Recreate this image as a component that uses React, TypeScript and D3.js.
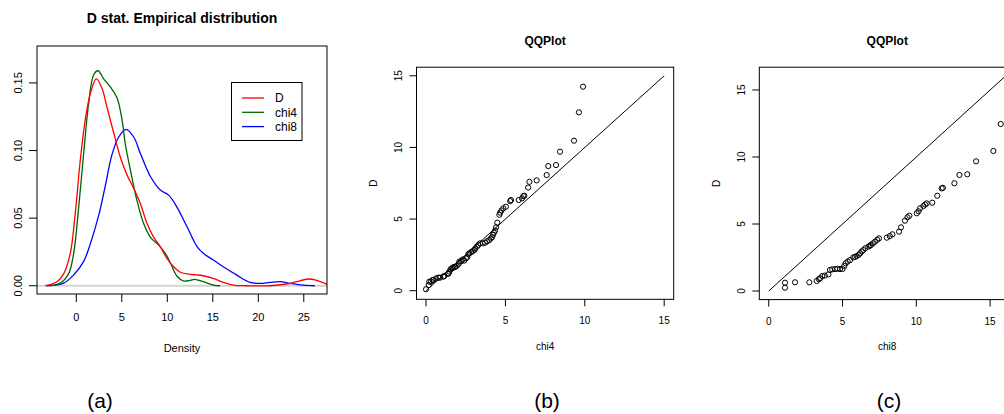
import * as d3 from "d3";

// density curves, panel (a)
const dX = [-3.4, -2.12, -1.38, -0.66, -0.11, 0.44, 0.99, 1.54, 2.2, 2.82, 3.37, 4.11, 4.84, 5.57, 6.31, 7.03, 7.77, 8.5, 9.23, 9.97, 10.7, 11.43, 12.5, 13.27, 13.95, 15.05, 16.15, 17.25, 18.6, 21.3, 23.1, 24.2, 25.5, 26.4, 27.6];
const dY = [0, 0.003, 0.009, 0.024, 0.054, 0.093, 0.123, 0.142, 0.153, 0.146, 0.132, 0.113, 0.095, 0.082, 0.072, 0.061, 0.046, 0.036, 0.029, 0.02, 0.014, 0.01, 0.0084, 0.008, 0.0074, 0.0055, 0.0025, 0.0005, 0, 0, 0.0013, 0.003, 0.005, 0.004, 0.001];
const chi4X = [-2.86, -1.76, -0.84, -0.29, 0.26, 0.81, 1.36, 1.91, 2.38, 3.01, 3.74, 4.47, 5.02, 5.38, 5.93, 6.67, 7.4, 8.13, 9.05, 9.78, 10.33, 11.07, 11.8, 12.53, 13.0, 13.95, 15.05, 15.8];
const chi4Y = [0, 0.002, 0.009, 0.024, 0.058, 0.098, 0.135, 0.156, 0.159, 0.153, 0.147, 0.139, 0.123, 0.105, 0.086, 0.063, 0.046, 0.036, 0.03, 0.024, 0.017, 0.007, 0.0035, 0.004, 0.0047, 0.003, 0.0005, 0];
const chi8X = [-3.25, -1.38, -0.29, 0.81, 1.54, 2.46, 3.19, 3.92, 4.66, 5.45, 6.31, 7.03, 8.13, 9.23, 10.15, 11.07, 12.17, 13.27, 13.96, 15.05, 16.15, 17.6, 19.1, 20.2, 21.3, 22.4, 23.5, 24.9, 26.2];
const chi8Y = [0, 0.002, 0.008, 0.018, 0.031, 0.052, 0.074, 0.097, 0.11, 0.1157, 0.11, 0.098, 0.081, 0.0708, 0.067, 0.058, 0.0436, 0.029, 0.024, 0.019, 0.014, 0.008, 0.0025, 0.0018, 0.0025, 0.003, 0.0018, 0.0005, 0];

// QQ plot (b): chi4 quantiles vs D
const qqB_x = [0.0, 0.17, 0.21, 0.31, 0.42, 0.46, 0.63, 0.78, 0.88, 1.09, 1.15, 1.37, 1.42, 1.47, 1.55, 1.64, 1.7, 1.79, 1.84, 1.93, 2.05, 2.1, 2.2, 2.31, 2.4, 2.52, 2.6, 2.67, 2.73, 2.85, 2.94, 3.05, 3.1, 3.2, 3.3, 3.4, 3.57, 3.72, 3.85, 3.99, 4.08, 4.16, 4.22, 4.28, 4.35, 4.41, 4.49, 4.62, 4.67, 4.75, 4.87, 5.03, 5.3, 5.35, 5.84, 6.05, 6.13, 6.19, 6.43, 6.51, 6.97, 7.6, 7.7, 8.19, 8.44, 9.32, 9.63, 9.89];
const qqB_y = [0.1, 0.4, 0.63, 0.63, 0.75, 0.75, 0.86, 0.91, 0.91, 0.98, 1.03, 1.17, 1.21, 1.33, 1.5, 1.56, 1.63, 1.64, 1.68, 1.72, 1.86, 2.03, 2.05, 2.18, 2.1, 2.26, 2.35, 2.56, 2.61, 2.7, 2.76, 2.85, 2.95, 3.07, 3.2, 3.3, 3.31, 3.35, 3.45, 3.54, 3.65, 3.73, 3.9, 4.05, 4.2, 4.42, 4.75, 5.3, 5.45, 5.6, 5.75, 5.86, 6.25, 6.33, 6.33, 6.45, 6.6, 6.63, 7.2, 7.6, 7.7, 8.07, 8.7, 8.77, 9.7, 10.47, 12.45, 14.24];

// QQ plot (c): chi8 quantiles vs D
const qqC_x = [1.1, 1.1, 1.78, 2.75, 3.25, 3.4, 3.48, 3.63, 3.8, 4.04, 4.15, 4.3, 4.5, 4.65, 4.83, 5.0, 5.12, 5.21, 5.35, 5.51, 5.73, 5.85, 5.96, 6.1, 6.19, 6.3, 6.41, 6.55, 6.75, 6.85, 6.91, 7.05, 7.2, 7.35, 7.47, 8.0, 8.2, 8.38, 8.83, 8.96, 9.23, 9.4, 9.53, 10.03, 10.15, 10.25, 10.48, 10.6, 10.7, 11.08, 11.42, 11.72, 11.8, 12.58, 12.92, 13.45, 14.05, 15.22, 15.72, 16.5];
const qqC_y = [0.25, 0.62, 0.65, 0.65, 0.75, 0.88, 0.95, 1.12, 1.15, 1.24, 1.57, 1.62, 1.64, 1.66, 1.64, 1.64, 1.87, 2.07, 2.2, 2.31, 2.51, 2.55, 2.61, 2.7, 2.81, 2.95, 3.06, 3.2, 3.31, 3.38, 3.43, 3.55, 3.68, 3.82, 3.93, 3.98, 4.1, 4.23, 4.43, 4.75, 5.25, 5.5, 5.62, 5.8, 5.95, 6.17, 6.34, 6.45, 6.54, 6.59, 7.11, 7.66, 7.7, 8.04, 8.66, 8.71, 9.68, 10.45, 12.46, 14.24];

const ticksA_x = [0, 5, 10, 15, 20, 25];
const ticksA_y = [0, 0.05, 0.1, 0.15];
const ticksQQ = [0, 5, 10, 15];
const legendNames = ["D", "chi4", "chi8"];
const legendColors = ["#ff0000", "#006400", "#0000ff"];

const FONT = "'Liberation Sans', Arial, sans-serif";

type Sc = d3.ScaleLinear<number, number>;

function Frame({ x, y, xt, yt, xfmt, yfmt, fs, tick, ylx }: { x: Sc; y: Sc; xt: number[]; yt: number[]; xfmt: (v: number) => string; yfmt: (v: number) => string; fs: number; tick: number; ylx: number }) {
  const [x0, x1] = x.range();
  const [y0, y1] = y.range();
  return (
    <g fontFamily={FONT} fontSize={fs} fill="#000">
      <rect x={x0} y={y1} width={x1 - x0} height={y0 - y1} fill="none" stroke="#000" strokeWidth={1} />
      {xt.map((t) => (
        <g key={"x" + t}>
          <line x1={x(t)} x2={x(t)} y1={y0} y2={y0 + tick} stroke="#000" />
          <text x={x(t)} y={y0 + tick + fs + 8} textAnchor="middle">{xfmt(t)}</text>
        </g>
      ))}
      {yt.map((t) => (
        <g key={"y" + t}>
          <line x1={x0 - tick} x2={x0} y1={y(t)} y2={y(t)} stroke="#000" />
          <text transform={`translate(${ylx},${y(t)}) rotate(-90)`} textAnchor="middle" dy="0.35em">{yfmt(t)}</text>
        </g>
      ))}
    </g>
  );
}

function QQ({ x, y, px, py, lineMax, xlab, id }: { x: Sc; y: Sc; px: number[]; py: number[]; lineMax: number; xlab: string; id: string }) {
  const [x0, x1] = x.range();
  const [y0, y1] = y.range();
  const cx = (x0 + x1) / 2;
  return (
    <g>
      <defs>
        <clipPath id={id}>
          <rect x={x0} y={y1} width={x1 - x0} height={y0 - y1} />
        </clipPath>
      </defs>
      <text x={cx} y={45} textAnchor="middle" fontFamily={FONT} fontWeight="bold" fontSize={12}>QQPlot</text>
      <g clipPath={`url(#${id})`}>
        <line x1={x(0)} y1={y(0)} x2={x(lineMax)} y2={y(lineMax)} stroke="#000" strokeWidth={1} />
        {px.map((v, i) => (
          <circle key={i} cx={x(v)} cy={y(py[i])} r={2.6} fill="none" stroke="#000" strokeWidth={1} />
        ))}
      </g>
      <Frame x={x} y={y} xt={ticksQQ} yt={ticksQQ} xfmt={String} yfmt={String} fs={10} tick={7} ylx={x0 - 18} />
      <text x={cx} y={350} textAnchor="middle" fontFamily={FONT} fontSize={10}>{xlab}</text>
      <text transform={`translate(${x0 - 43},${(y0 + y1) / 2}) rotate(-90)`} textAnchor="middle" dy="0.35em" fontFamily={FONT} fontSize={10}>D</text>
    </g>
  );
}

export default function App() {
  const xA = d3.scaleLinear().domain([-4.32, 27.55]).range([37, 327]);
  const yA = d3.scaleLinear().domain([-0.0061, 0.1773]).range([294, 46]);
  const xB = d3.scaleLinear().domain([-0.6, 15.6]).range([416.5, 673.7]);
  const yB = d3.scaleLinear().domain([-0.6, 15.6]).range([299.3, 67.2]);
  const xC = d3.scaleLinear().domain([-0.64, 16.7]).range([759.3, 1015.2]);
  const yC = d3.scaleLinear().domain([-0.64, 16.7]).range([299.6, 67.2]);

  const line = d3
    .line<[number, number]>()
    .x((d) => xA(d[0]))
    .y((d) => yA(d[1]))
    .curve(d3.curveCatmullRom.alpha(0.5));

  const series: [number[], number[], string][] = [
    [chi8X, chi8Y, legendColors[2]],
    [chi4X, chi4Y, legendColors[1]],
    [dX, dY, legendColors[0]],
  ];

  const fmtA = (v: number) => d3.format(".2f")(v);

  return (
    <svg width={1004} height={414} style={{ position: "absolute", left: 0, top: 0, background: "#fff" }}>
      {/* panel (a) */}
      <defs>
        <clipPath id="clipA">
          <rect x={37} y={46} width={290} height={248} />
        </clipPath>
      </defs>
      <text x={182} y={23} textAnchor="middle" fontFamily={FONT} fontWeight="bold" fontSize={14}>D stat. Empirical distribution</text>
      <g clipPath="url(#clipA)">
        <line x1={37} x2={327} y1={yA(0)} y2={yA(0)} stroke="#d3d3d3" strokeWidth={2} />
        {series.map(([xs, ys, c], i) => (
          <path key={i} d={line(xs.map((v, j) => [v, ys[j]] as [number, number])) ?? ""} fill="none" stroke={c} strokeWidth={1.3} />
        ))}
      </g>
      <Frame x={xA} y={yA} xt={ticksA_x} yt={ticksA_y} xfmt={String} yfmt={fmtA} fs={11} tick={8} ylx={18} />
      <text x={182} y={352} textAnchor="middle" fontFamily={FONT} fontSize={11}>Density</text>
      <g fontFamily={FONT} fontSize={12}>
        <rect x={231.5} y={82.5} width={70.5} height={58} fill="#fff" stroke="#000" />
        {legendNames.map((n, i) => (
          <g key={n}>
            <line x1={242} x2={264} y1={98 + i * 14.3} y2={98 + i * 14.3} stroke={legendColors[i]} strokeWidth={1.3} />
            <text x={275} y={98 + i * 14.3} dy="0.35em">{n}</text>
          </g>
        ))}
      </g>

      {/* panel (b) */}
      <QQ x={xB} y={yB} px={qqB_x} py={qqB_y} lineMax={15} xlab="chi4" id="clipB" />
      {/* panel (c) */}
      <QQ x={xC} y={yC} px={qqC_x} py={qqC_y} lineMax={16.06} xlab="chi8" id="clipC" />

      <g fontFamily={FONT} fontSize={21} textAnchor="middle">
        <text x={100} y={408}>(a)</text>
        <text x={547} y={408}>(b)</text>
        <text x={889} y={408}>(c)</text>
      </g>
    </svg>
  );
}
